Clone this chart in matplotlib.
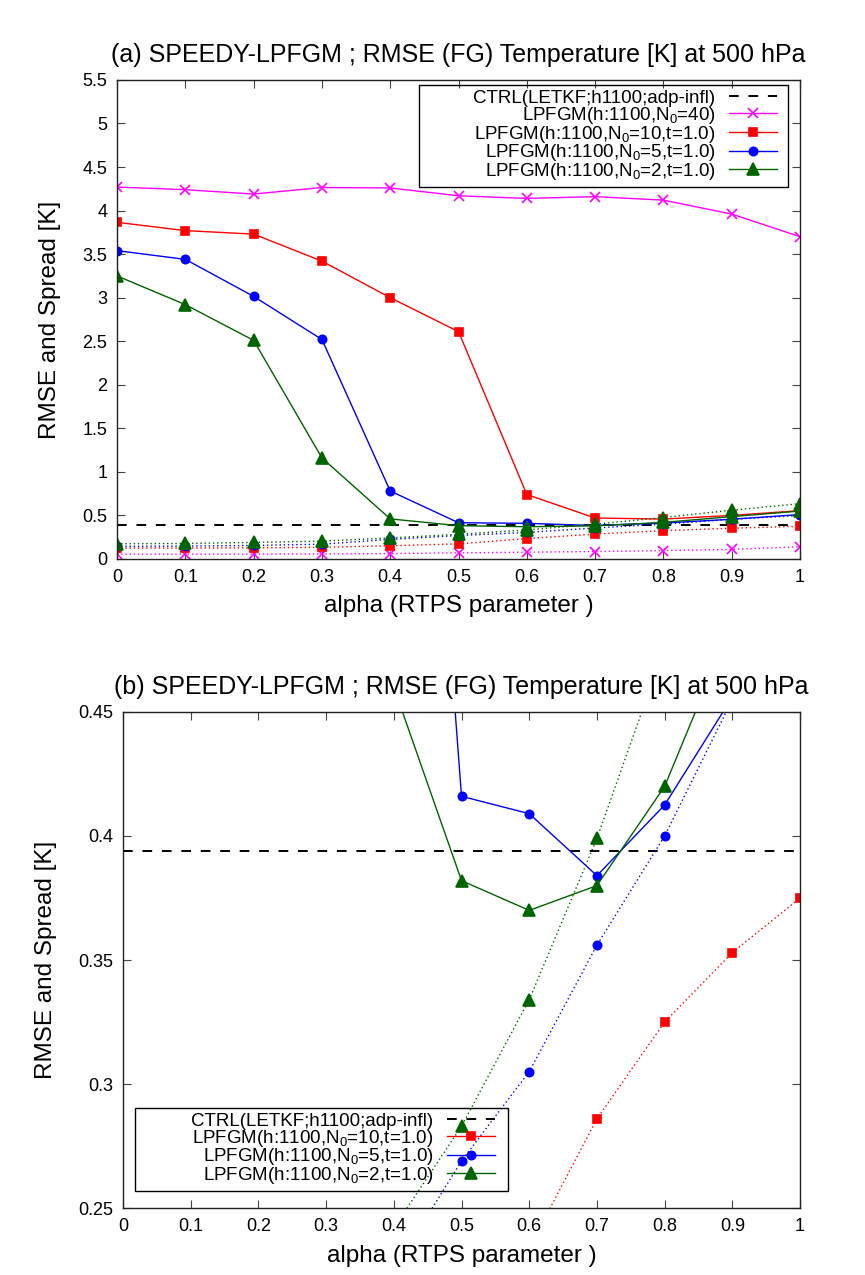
import matplotlib
matplotlib.use("Agg")
import matplotlib.pyplot as plt
from matplotlib.patches import Rectangle
from matplotlib.ticker import FuncFormatter

plt.rcParams['font.family'] = ['Liberation Sans', 'DejaVu Sans']
plt.rcParams['mathtext.fontset'] = 'custom'
plt.rcParams['mathtext.rm'] = 'Liberation Sans'
plt.rcParams['mathtext.default'] = 'regular'

alpha = [0.0, 0.1, 0.2, 0.3, 0.4, 0.5, 0.6, 0.7, 0.8, 0.9, 1.0]
ctrl_rmse = 0.394

# RMSE (solid) and spread (dotted)
rmse_n40 = [4.27, 4.24, 4.19, 4.265, 4.26, 4.17, 4.14, 4.16, 4.12, 3.96, 3.70]
sprd_n40 = [0.055, 0.055, 0.055, 0.058, 0.062, 0.07, 0.078, 0.085, 0.096, 0.11, 0.14]
rmse_n10 = [3.865, 3.77, 3.73, 3.42, 3.0, 2.61, 0.74, 0.47, 0.458, 0.50, 0.555]
sprd_n10 = [0.125, 0.125, 0.128, 0.133, 0.152, 0.173, 0.234, 0.286, 0.325, 0.353, 0.375]
rmse_n5 = [3.54, 3.44, 3.015, 2.52, 0.78, 0.416, 0.409, 0.384, 0.4125, 0.456, 0.51]
sprd_n5 = [0.145, 0.148, 0.155, 0.17, 0.225, 0.269, 0.305, 0.356, 0.400, 0.455, 0.50]
rmse_n2 = [3.25, 2.92, 2.51, 1.16, 0.46, 0.382, 0.370, 0.380, 0.420, 0.486, 0.55]
sprd_n2 = [0.175, 0.178, 0.19, 0.205, 0.242, 0.283, 0.334, 0.399, 0.476, 0.56, 0.635]

lab_ctrl = 'CTRL(LETKF;h1100;adp-infl)'
lab_n40 = 'LPFGM(h:1100,$N_0$=40)'
lab_n10 = 'LPFGM(h:1100,$N_0$=10,t=1.0)'
lab_n5 = 'LPFGM(h:1100,$N_0$=5,t=1.0)'
lab_n2 = 'LPFGM(h:1100,$N_0$=2,t=1.0)'

title_a = '(a) SPEEDY-LPFGM ; RMSE (FG) Temperature [K] at 500 hPa'
title_b = '(b) SPEEDY-LPFGM ; RMSE (FG) Temperature [K] at 500 hPa'

MAG = '#ff00ff'
RED = '#ff0000'
BLU = '#0000ff'
GRN = '#006400'

fig = plt.figure(figsize=(8.65, 12.75), dpi=100)
ax1 = fig.add_axes([0.1353, 0.5616, 0.7896, 0.3757])
ax2 = fig.add_axes([0.1422, 0.0525, 0.7827, 0.3891])

series = [
    (rmse_n40, sprd_n40, MAG, 'x', 7, lab_n40),
    (rmse_n10, sprd_n10, RED, 's', 6, lab_n10),
    (rmse_n5, sprd_n5, BLU, 'o', 6, lab_n5),
    (rmse_n2, sprd_n2, GRN, '^', 8, lab_n2),
]

def fmt(v, pos):
    return '%g' % round(v, 3)

def style(ax, ylim, yticks, title):
    ax.set_xlim(0, 1)
    ax.set_ylim(*ylim)
    ax.set_xticks(alpha)
    ax.set_yticks(yticks)
    ax.xaxis.set_major_formatter(FuncFormatter(fmt))
    ax.yaxis.set_major_formatter(FuncFormatter(fmt))
    ax.tick_params(direction='in', top=True, right=True, length=6,
                   width=0.8, labelsize=13, color='#444444')
    ax.tick_params(axis='x', pad=7)
    ax.tick_params(axis='y', pad=7)
    for sp in ax.spines.values():
        sp.set_linewidth(1.0)
        sp.set_color('#222222')
    ax.set_title(title, fontsize=18, pad=13)
    ax.set_xlabel('alpha (RTPS parameter )', fontsize=17.5, labelpad=7)
    ax.set_ylabel('RMSE and Spread [K]', fontsize=17.5, labelpad=15)

def add_legend(ax, handles, loc, anchor, extra_left, extra_right):
    leg = ax.legend(handles=handles, loc=loc, bbox_to_anchor=anchor,
                    fontsize=13.5, markerfirst=False, frameon=False,
                    labelspacing=-0.12, handlelength=2.6, handletextpad=0.7,
                    borderpad=0.25, borderaxespad=0)
    fig.canvas.draw()
    bb = leg.get_window_extent().transformed(fig.transFigure.inverted())
    dl = extra_left / fig.bbox.width
    dr = extra_right / fig.bbox.width
    fig.add_artist(Rectangle((bb.x0 - dl, bb.y0), bb.width + dl + dr, bb.height,
                             transform=fig.transFigure, fill=False,
                             ec='black', lw=1.0))
    return leg

# (a) full range
h = []
h.append(ax1.axhline(ctrl_rmse, color='black', lw=1.4, ls=(0, (5, 5)), label=lab_ctrl))
for rm, sp, c, m, ms, lab in series:
    l, = ax1.plot(alpha, rm, color=c, lw=1.0, marker=m, ms=ms, mew=1.2, label=lab)
    ax1.plot(alpha, sp, color=c, lw=1.0, ls=(0, (1, 2)), marker=m, ms=ms, mew=1.2)
    h.append(l)
style(ax1, (0, 5.5), [0, 0.5, 1, 1.5, 2, 2.5, 3, 3.5, 4, 4.5, 5, 5.5], title_a)
add_legend(ax1, h, 'upper right', (0.9737, 0.989), 50, 6)

# (b) zoom
h = []
h.append(ax2.axhline(ctrl_rmse, color='black', lw=1.4, ls=(0, (5, 5)), label=lab_ctrl))
for rm, sp, c, m, ms, lab in series[1:]:
    l, = ax2.plot(alpha, rm, color=c, lw=1.0, marker=m, ms=ms, mew=1.2, label=lab)
    ax2.plot(alpha, sp, color=c, lw=1.0, ls=(0, (1, 2)), marker=m, ms=ms, mew=1.2)
    h.append(l)
style(ax2, (0.25, 0.45), [0.25, 0.3, 0.35, 0.4, 0.45], title_b)
add_legend(ax2, h, 'lower left', (0.094, 0.035), 52, 8)

fig.savefig('out.png', dpi=100)
